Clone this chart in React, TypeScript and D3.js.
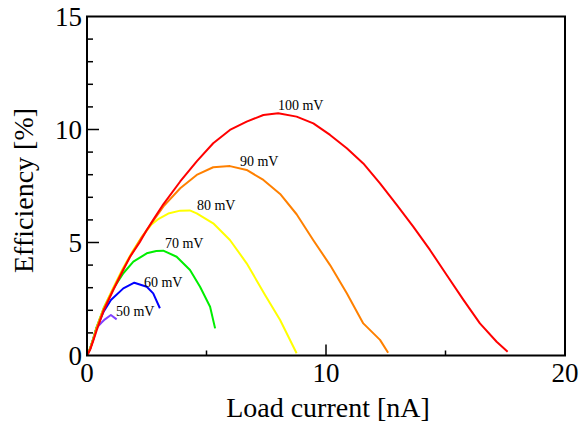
import React from "react";
import * as d3 from "d3";

const W = 581;
const H = 426;

const xTickLabels = [0, 10, 20];
const yTickLabels = [0, 5, 10, 15];
const xMajorTicks = [10];
const xMinorTicks = [5, 15];
const yMajorTicks = [5, 10];
const yMinorTicks = [1, 2, 3, 4, 6, 7, 8, 9, 11, 12, 13, 14];

const seriesNames = ["50 mV", "60 mV", "70 mV", "80 mV", "90 mV", "100 mV"];
const seriesColors = ["#8040ff", "#0000ff", "#00ee00", "#ffff00", "#ff8000", "#ff0000"];

const x50 = [0, 0.13, 0.26, 0.4, 0.6, 0.75, 1.0, 1.24];
const y50 = [0, 0.3, 0.72, 1.22, 1.45, 1.6, 1.79, 1.6];

const x60 = [0, 0.13, 0.26, 0.4, 0.7, 1.0, 1.52, 1.98, 2.5, 2.77, 3.05];
const y60 = [0, 0.3, 0.72, 1.22, 1.95, 2.46, 2.97, 3.22, 3.04, 2.75, 2.09];

const x70 = [0, 0.13, 0.26, 0.4, 0.7, 1.1, 1.52, 1.94, 2.5, 2.9, 3.19, 3.75, 4.31, 4.73, 5.15, 5.36];
const y70 = [0, 0.32, 0.75, 1.25, 2.1, 2.95, 3.64, 4.15, 4.52, 4.62, 4.64, 4.37, 3.78, 3.04, 2.16, 1.2];

const x80 = [0, 0.13, 0.26, 0.4, 0.7, 1.1, 1.5, 1.9, 2.3, 2.7, 3.0, 3.4, 3.9, 4.3, 4.59, 5.28, 5.98, 6.68, 7.45, 8.08, 8.77];
const y80 = [0, 0.3, 0.72, 1.22, 2.1, 3.0, 3.85, 4.6, 5.25, 5.8, 6.05, 6.28, 6.41, 6.42, 6.29, 5.85, 5.11, 4.08, 2.68, 1.57, 0.1];

const x90 = [0, 0.13, 0.26, 0.4, 0.7, 1.1, 1.5, 1.9, 2.3, 2.7, 3.2, 3.9, 4.59, 5.28, 5.98, 6.68, 7.38, 8.08, 8.77, 9.47, 10.17, 10.87, 11.56, 12.26, 12.6];
const y90 = [0, 0.3, 0.7, 1.2, 2.05, 2.95, 3.8, 4.55, 5.25, 5.85, 6.6, 7.4, 7.99, 8.33, 8.38, 8.21, 7.77, 7.15, 6.25, 5.1, 4.0, 2.75, 1.42, 0.69, 0.12];

const x100 = [0, 0.13, 0.26, 0.41, 0.7, 1.1, 1.5, 1.8, 2.2, 2.5, 2.77, 3.2, 3.9, 4.6, 5.28, 5.98, 6.68, 7.38, 8.0, 8.77, 9.47, 10.17, 10.87, 11.56, 12.26, 12.96, 13.65, 14.35, 15.05, 15.75, 16.44, 17.14, 17.6];
const y100 = [0, 0.25, 0.65, 1.13, 2.0, 2.9, 3.75, 4.37, 5.0, 5.55, 6.0, 6.7, 7.7, 8.6, 9.39, 9.98, 10.35, 10.64, 10.72, 10.57, 10.27, 9.76, 9.17, 8.5, 7.62, 6.66, 5.7, 4.67, 3.56, 2.46, 1.42, 0.61, 0.17];

const seriesX = [x50, x60, x70, x80, x90, x100];
const seriesY = [y50, y60, y70, y80, y90, y100];

const labelX = [1.21, 2.38, 3.26, 4.6, 6.4, 7.99];
const labelY = [1.73, 3.03, 4.74, 6.44, 8.38, 10.86];

const xTitle = "Load current [nA]";
const yTitle = "Efficiency [%]";

export default function App() {
  const left = 87;
  const right = 565;
  const top = 16.5;
  const bottom = 355.5;
  const x = d3.scaleLinear().domain([0, 20]).range([left, right]);
  const y = d3.scaleLinear().domain([0, 15]).range([bottom, top]);
  const line = d3
    .line<[number, number]>()
    .x((d) => x(d[0]))
    .y((d) => y(d[1]));
  const font = "'Liberation Serif', 'Times New Roman', serif";

  return (
    <svg
      width={W}
      height={H}
      style={{ position: "absolute", left: 0, top: 0, background: "#fff" }}
      fontFamily={font}
    >
      <rect x={0} y={0} width={W} height={H} fill="#fff" />
      {seriesX.map((xs, i) => (
        <path
          key={seriesNames[i]}
          d={line(xs.map((v, j) => [v, seriesY[i][j]] as [number, number])) || ""}
          fill="none"
          stroke={seriesColors[i]}
          strokeWidth={2}
          strokeLinejoin="round"
        />
      ))}
      {seriesNames.map((n, i) => (
        <text key={n} x={x(labelX[i])} y={y(labelY[i])} fontSize={14} fill="#000">
          {n}
        </text>
      ))}
      <rect
        x={left}
        y={top}
        width={right - left}
        height={bottom - top}
        fill="none"
        stroke="#000"
        strokeWidth={2}
      />
      {yMinorTicks.map((t) => (
        <line key={"ym" + t} x1={left} x2={left + 6} y1={y(t)} y2={y(t)} stroke="#000" strokeWidth={1.5} />
      ))}
      {yMajorTicks.map((t) => (
        <line key={"yM" + t} x1={left} x2={left + 12} y1={y(t)} y2={y(t)} stroke="#000" strokeWidth={1.5} />
      ))}
      {xMinorTicks.map((t) => (
        <line key={"xm" + t} x1={x(t)} x2={x(t)} y1={bottom} y2={bottom - 5} stroke="#000" strokeWidth={1.5} />
      ))}
      {xMajorTicks.map((t) => (
        <line key={"xM" + t} x1={x(t)} x2={x(t)} y1={bottom} y2={bottom - 11} stroke="#000" strokeWidth={1.5} />
      ))}
      {xTickLabels.map((t) => (
        <text key={"xl" + t} x={x(t)} y={bottom + 26} fontSize={27} textAnchor="middle" fill="#000">
          {t}
        </text>
      ))}
      {yTickLabels.map((t) => (
        <text key={"yl" + t} x={left - 5} y={y(t) + 9} fontSize={27} textAnchor="end" fill="#000">
          {t}
        </text>
      ))}
      <text x={328} y={416.5} fontSize={28} textAnchor="middle" fill="#000">
        {xTitle}
      </text>
      <text
        transform="translate(33,190.5) rotate(-90)"
        fontSize={28}
        textAnchor="middle"
        fill="#000"
      >
        {yTitle}
      </text>
    </svg>
  );
}
